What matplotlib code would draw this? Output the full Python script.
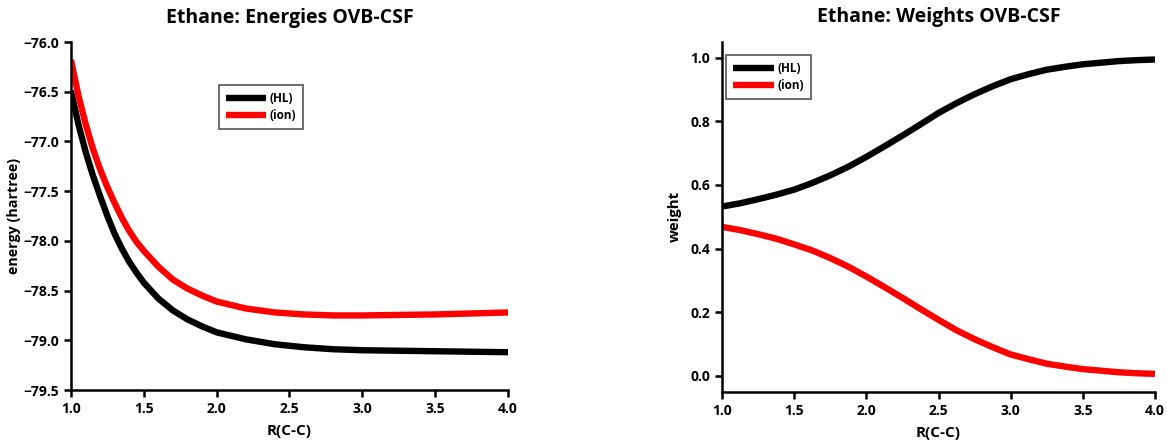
"""Ethane OVB-CSF scan: total energies and structure weights vs. C-C distance."""
import matplotlib
matplotlib.use("Agg")
import matplotlib.pyplot as plt

plt.rcParams["font.family"] = ["Open Sans", "DejaVu Sans"]
plt.rcParams["font.weight"] = "bold"

# C-C distance (angstrom)
r_energy = [1.0, 1.05, 1.1, 1.15, 1.2, 1.25, 1.3, 1.35, 1.4, 1.45, 1.5, 1.6, 1.7, 1.8, 1.9, 2.0,
            2.2, 2.4, 2.6, 2.8, 3.0, 3.25, 3.5, 3.75, 4.0]
e_hl = [-76.49, -76.82, -77.10, -77.34, -77.55, -77.75, -77.93, -78.08, -78.21, -78.32, -78.42,
        -78.58, -78.70, -78.79, -78.86, -78.92,
        -78.99, -79.04, -79.07, -79.09, -79.10, -79.105, -79.11, -79.115, -79.12]
e_ion = [-76.18, -76.53, -76.82, -77.07, -77.28, -77.46, -77.62, -77.77, -77.90, -78.01, -78.10,
         -78.26, -78.39, -78.48, -78.55, -78.61,
         -78.68, -78.72, -78.74, -78.75, -78.75, -78.745, -78.74, -78.73, -78.72]

r_weight = [1.0, 1.125, 1.25, 1.375, 1.5, 1.625, 1.75, 1.875, 2.0, 2.125, 2.25, 2.375, 2.5,
            2.625, 2.75, 2.875, 3.0, 3.125, 3.25, 3.375, 3.5, 3.625, 3.75, 3.875, 4.0]
w_hl = [0.532, 0.542, 0.555, 0.569, 0.585, 0.606, 0.630, 0.657, 0.688, 0.721, 0.755, 0.790, 0.826,
        0.857, 0.885, 0.910, 0.932, 0.948, 0.962, 0.971, 0.979, 0.984, 0.989, 0.992, 0.994]
w_ion = [0.468, 0.458, 0.445, 0.431, 0.413, 0.394, 0.370, 0.343, 0.312, 0.279, 0.245, 0.210, 0.176,
         0.143, 0.115, 0.090, 0.067, 0.052, 0.038, 0.029, 0.021, 0.016, 0.011, 0.008, 0.006]

LW = 4.6
fig = plt.figure(figsize=(11.67, 4.44), dpi=100)
ax1 = fig.add_axes([0.0608, 0.1216, 0.3745, 0.7838])
ax2 = fig.add_axes([0.6187, 0.1178, 0.371, 0.7883])

line_kw = dict(lw=LW, solid_joinstyle="round", solid_capstyle="butt")
ax1.plot(r_energy, e_hl, color="black", label="(HL)", **line_kw)
ax1.plot(r_energy, e_ion, color="#ff0000", label="(ion)", **line_kw)
ax1.set_xlim(1.0, 4.0)
ax1.set_ylim(-79.5, -76.0)
ax1.set_yticks([-79.5, -79.0, -78.5, -78.0, -77.5, -77.0, -76.5, -76.0])
ax1.set_ylabel("energy (hartree)", fontsize=10.3, fontweight="bold", labelpad=2)
ax1.set_title("Ethane: Energies OVB-CSF", fontsize=14, fontweight="bold", pad=14)

ax2.plot(r_weight, w_hl, color="black", label="(HL)", **line_kw)
ax2.plot(r_weight, w_ion, color="#ff0000", label="(ion)", **line_kw)
ax2.set_xlim(1.0, 4.0)
ax2.set_ylim(-0.05, 1.05)
ax2.set_yticks([0.0, 0.2, 0.4, 0.6, 0.8, 1.0])
ax2.set_ylabel("weight", fontsize=10.8, fontweight="bold", labelpad=6)
ax2.set_title("Ethane: Weights OVB-CSF", fontsize=14, fontweight="bold", pad=14)

legend_pos = {ax1: (0.339, 0.876), ax2: (0.010, 0.962)}
for ax in (ax1, ax2):
    ax.set_xticks([1.0, 1.5, 2.0, 2.5, 3.0, 3.5, 4.0])
    ax.set_xlabel("R(C-C)", fontsize=11, fontweight="bold", labelpad=6)
    for side in ("top", "right"):
        ax.spines[side].set_visible(False)
    for side in ("left", "bottom"):
        ax.spines[side].set_linewidth(1.8)
    ax.tick_params(direction="out", length=5, width=1.8, labelsize=10)
    for lbl in ax.get_xticklabels() + ax.get_yticklabels():
        lbl.set_fontweight("bold")
    leg = ax.legend(loc="upper left", bbox_to_anchor=legend_pos[ax], fancybox=False,
                    framealpha=1, edgecolor="#555555", handlelength=3.4, handletextpad=0.3,
                    borderpad=0.6, labelspacing=0.35, borderaxespad=0,
                    prop={"size": 8.5, "weight": "bold"})
    leg.get_frame().set_linewidth(1.2)

fig.savefig("out.png", dpi=100)
